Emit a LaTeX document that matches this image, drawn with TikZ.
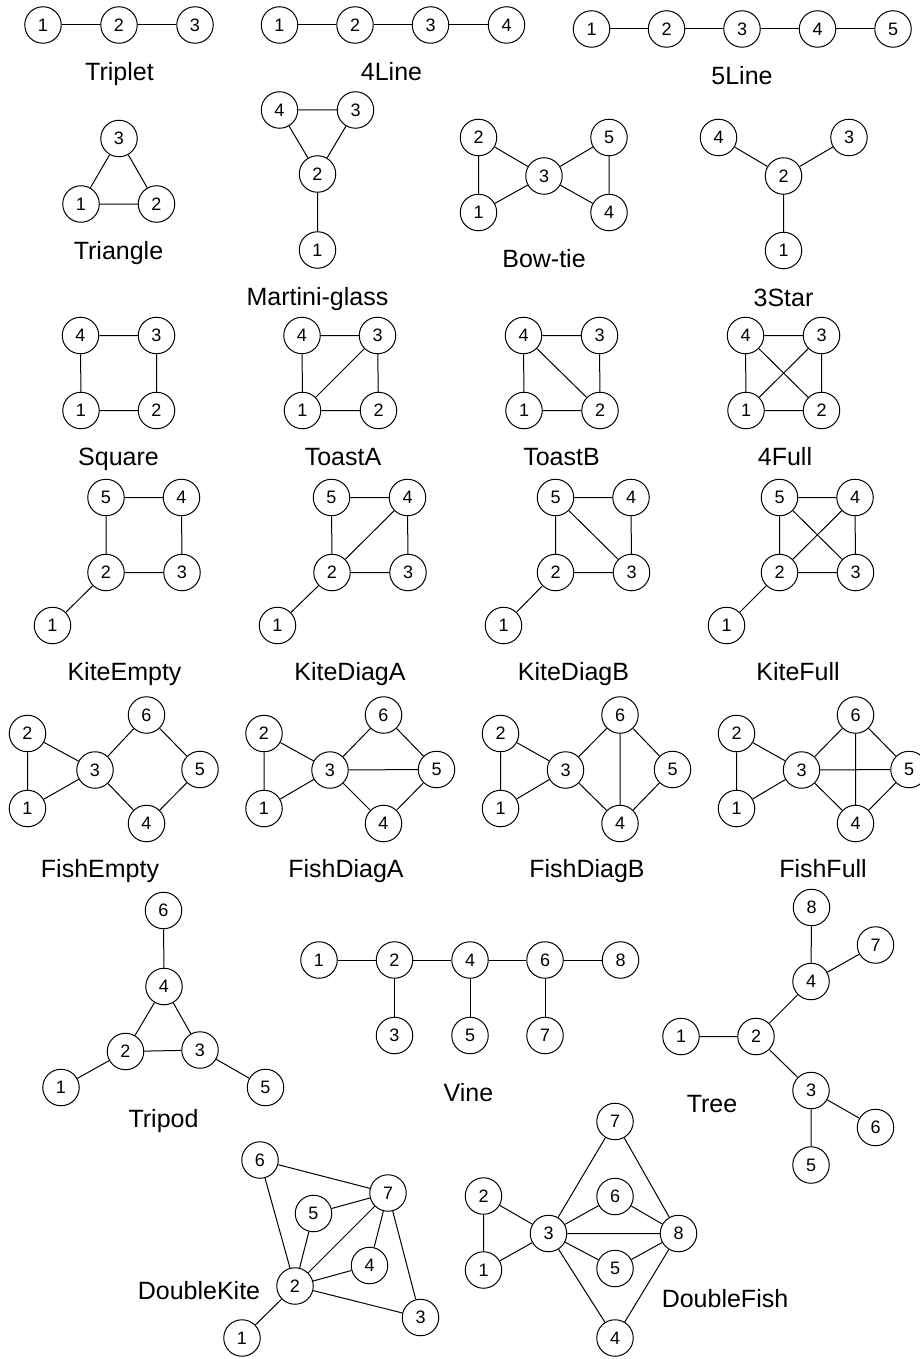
\documentclass[tikz,border=0pt]{standalone}
\usepackage{fontspec}
\setmainfont{Liberation Sans}
\begin{document}
\begin{tikzpicture}[x=1pt,y=-1pt,
  v/.style={circle,draw,line width=1pt,minimum size=36.5pt,inner sep=0pt,fill=white,
            font=\fontsize{18}{18}\selectfont},
  lbl/.style={anchor=base,inner sep=0pt,font=\fontsize{25}{30}\selectfont},
  e/.style={line width=1pt}]
\useasboundingbox (0,0) rectangle (920,1359);

% ---------- Triplet ----------
\node[v] (tp1) at (43,25) {1};
\node[v] (tp2) at (119,25) {2};
\node[v] (tp3) at (195,25) {3};
\draw[e] (tp1)--(tp2) (tp2)--(tp3);
\node[lbl] (tpL) at (119.5,81) {Triplet};

% ---------- 4Line ----------
\node[v] (fl1) at (279.5,25) {1};
\node[v] (fl2) at (355,25) {2};
\node[v] (fl3) at (430.5,25) {3};
\node[v] (fl4) at (506.5,25) {4};
\draw[e] (fl1)--(fl2) (fl2)--(fl3) (fl3)--(fl4);
\node[lbl] (flL) at (391.5,81) {4Line};

% ---------- 5Line ----------
\node[v] (fv1) at (591.5,29) {1};
\node[v] (fv2) at (666.5,29) {2};
\node[v] (fv3) at (742,29) {3};
\node[v] (fv4) at (817.5,29) {4};
\node[v] (fv5) at (893,29) {5};
\draw[e] (fv1)--(fv2) (fv2)--(fv3) (fv3)--(fv4) (fv4)--(fv5);
\node[lbl] (fvL) at (742,85) {5Line};

% ---------- Triangle ----------
\node[v] (tr3) at (119,138.5) {3};
\node[v] (tr1) at (81,204) {1};
\node[v] (tr2) at (156.5,204) {2};
\draw[e] (tr1)--(tr2) (tr1)--(tr3) (tr2)--(tr3);
\node[lbl] (trL) at (118.5,259.3) {Triangle};

% ---------- Martini-glass ----------
\node[v] (mg4) at (279.5,110) {4};
\node[v] (mg3) at (355.5,110) {3};
\node[v] (mg2) at (317.5,174) {2};
\node[v] (mg1) at (317.5,250) {1};
\draw[e] (mg4)--(mg3) (mg4)--(mg2) (mg3)--(mg2) (mg2)--(mg1);
\node[lbl] (mgL) at (317.5,305) {Martini-glass};

% ---------- Bow-tie ----------
\node[v] (bt2) at (478.5,137.5) {2};
\node[v] (bt5) at (609,137.5) {5};
\node[v] (bt3) at (544,176) {3};
\node[v] (bt1) at (478.5,212.5) {1};
\node[v] (bt4) at (609,212.5) {4};
\draw[e] (bt2)--(bt1) (bt2)--(bt3) (bt1)--(bt3) (bt3)--(bt5) (bt3)--(bt4) (bt5)--(bt4);
\node[lbl] (btL) at (544,267) {Bow-tie};

% ---------- 3Star ----------
\node[v] (st4) at (718.5,137.5) {4};
\node[v] (st3) at (849,137.5) {3};
\node[v] (st2) at (783.5,176) {2};
\node[v] (st1) at (783.5,250.5) {1};
\draw[e] (st4)--(st2) (st3)--(st2) (st2)--(st1);
\node[lbl] (stL) at (783.5,306) {3Star};

% ---------- Square ----------
\node[v] (sq4) at (80.5,335.5) {4};
\node[v] (sq3) at (156.5,335.5) {3};
\node[v] (sq1) at (81,410.5) {1};
\node[v] (sq2) at (156.5,410.5) {2};
\draw[e] (sq4)--(sq3) (sq4)--(sq1) (sq3)--(sq2) (sq1)--(sq2);
\node[lbl] (sqL) at (118.5,465.3) {Square};

% ---------- ToastA ----------
\node[v] (ta4) at (302,335.5) {4};
\node[v] (ta3) at (377.5,335.5) {3};
\node[v] (ta1) at (302.5,410.5) {1};
\node[v] (ta2) at (378.5,410.5) {2};
\draw[e] (ta4)--(ta3) (ta4)--(ta1) (ta3)--(ta2) (ta1)--(ta2) (ta1)--(ta3);
\node[lbl] (taL) at (343,465.3) {ToastA};

% ---------- ToastB ----------
\node[v] (tb4) at (523.5,335.5) {4};
\node[v] (tb3) at (599.5,335.5) {3};
\node[v] (tb1) at (524,410.5) {1};
\node[v] (tb2) at (600,410.5) {2};
\draw[e] (tb4)--(tb3) (tb4)--(tb1) (tb3)--(tb2) (tb1)--(tb2) (tb4)--(tb2);
\node[lbl] (tbL) at (561.5,465.3) {ToastB};

% ---------- 4Full ----------
\node[v] (ff4) at (745.5,335.5) {4};
\node[v] (ff3) at (821.5,335.5) {3};
\node[v] (ff1) at (746,410.5) {1};
\node[v] (ff2) at (821.5,410.5) {2};
\draw[e] (ff4)--(ff3) (ff4)--(ff1) (ff3)--(ff2) (ff1)--(ff2) (ff4)--(ff2) (ff1)--(ff3);
\node[lbl] (ffL) at (785,465.3) {4Full};

% ---------- KiteEmpty ----------
\node[v] (ke5) at (106,497.5) {5};
\node[v] (ke4) at (181.5,497.5) {4};
\node[v] (ke2) at (106,572.5) {2};
\node[v] (ke3) at (182,572.5) {3};
\node[v] (ke1) at (52.5,625.5) {1};
\draw[e] (ke5)--(ke4) (ke5)--(ke2) (ke4)--(ke3) (ke2)--(ke3) (ke2)--(ke1);
\node[lbl] (keL) at (124.5,680.3) {KiteEmpty};

% ---------- KiteDiagA ----------
\node[v] (ka5) at (331.5,497.5) {5};
\node[v] (ka4) at (407.5,497.5) {4};
\node[v] (ka2) at (332,572.5) {2};
\node[v] (ka3) at (408,572.5) {3};
\node[v] (ka1) at (277.5,625.5) {1};
\draw[e] (ka5)--(ka4) (ka5)--(ka2) (ka4)--(ka3) (ka2)--(ka3) (ka2)--(ka1) (ka2)--(ka4);
\node[lbl] (kaL) at (350,680.3) {KiteDiagA};

% ---------- KiteDiagB ----------
\node[v] (kb5) at (555.5,497.5) {5};
\node[v] (kb4) at (631,497.5) {4};
\node[v] (kb2) at (555.5,572.5) {2};
\node[v] (kb3) at (631.5,572.5) {3};
\node[v] (kb1) at (503.5,625.5) {1};
\draw[e] (kb5)--(kb4) (kb5)--(kb2) (kb4)--(kb3) (kb2)--(kb3) (kb2)--(kb1) (kb5)--(kb3);
\node[lbl] (kbL) at (573.5,680.3) {KiteDiagB};

% ---------- KiteFull ----------
\node[v] (kf5) at (779.5,497.5) {5};
\node[v] (kf4) at (855,497.5) {4};
\node[v] (kf2) at (779.5,572.5) {2};
\node[v] (kf3) at (855.5,572.5) {3};
\node[v] (kf1) at (726.5,625.5) {1};
\draw[e] (kf5)--(kf4) (kf5)--(kf2) (kf4)--(kf3) (kf2)--(kf3) (kf2)--(kf1) (kf5)--(kf3) (kf2)--(kf4);
\node[lbl] (kfL) at (798,680.3) {KiteFull};

% ---------- FishEmpty ----------
\node[v] (fe6) at (146.5,715) {6};
\node[v] (fe2) at (27.5,733.5) {2};
\node[v] (fe3) at (95,770) {3};
\node[v] (fe5) at (200,769.5) {5};
\node[v] (fe1) at (27.5,808.5) {1};
\node[v] (fe4) at (146.5,823.5) {4};
\draw[e] (fe2)--(fe1) (fe2)--(fe3) (fe1)--(fe3) (fe3)--(fe6) (fe3)--(fe4) (fe6)--(fe5) (fe4)--(fe5);
\node[lbl] (feL) at (100,877.7) {FishEmpty};

% ---------- FishDiagA ----------
\node[v] (fa6) at (383.5,715) {6};
\node[v] (fa2) at (264,733.5) {2};
\node[v] (fa3) at (330,770) {3};
\node[v] (fa5) at (436.5,769.5) {5};
\node[v] (fa1) at (264,808.5) {1};
\node[v] (fa4) at (383.5,823.5) {4};
\draw[e] (fa2)--(fa1) (fa2)--(fa3) (fa1)--(fa3) (fa3)--(fa6) (fa3)--(fa4) (fa6)--(fa5) (fa4)--(fa5) (fa3)--(fa5);
\node[lbl] (faL) at (346,877.7) {FishDiagA};

% ---------- FishDiagB ----------
\node[v] (fb6) at (620,715) {6};
\node[v] (fb2) at (500.5,733.5) {2};
\node[v] (fb3) at (565.5,770) {3};
\node[v] (fb5) at (672.5,769.5) {5};
\node[v] (fb1) at (500.5,808.5) {1};
\node[v] (fb4) at (620,823.5) {4};
\draw[e] (fb2)--(fb1) (fb2)--(fb3) (fb1)--(fb3) (fb3)--(fb6) (fb3)--(fb4) (fb6)--(fb5) (fb4)--(fb5) (fb6)--(fb4);
\node[lbl] (fbL) at (587,877.7) {FishDiagB};

% ---------- FishFull ----------
\node[v] (fu6) at (855.5,715) {6};
\node[v] (fu2) at (736.5,733.5) {2};
\node[v] (fu3) at (801.5,770) {3};
\node[v] (fu5) at (909,769.5) {5};
\node[v] (fu1) at (736.5,808.5) {1};
\node[v] (fu4) at (855.5,823.5) {4};
\draw[e] (fu2)--(fu1) (fu2)--(fu3) (fu1)--(fu3) (fu3)--(fu6) (fu3)--(fu4) (fu6)--(fu5) (fu4)--(fu5) (fu6)--(fu4) (fu3)--(fu5);
\node[lbl] (fuL) at (823,877.7) {FishFull};

% ---------- Tripod ----------
\node[v] (td6) at (163.5,910.5) {6};
\node[v] (td4) at (164,986.5) {4};
\node[v] (td2) at (125.5,1051.5) {2};
\node[v] (td3) at (200,1050) {3};
\node[v] (td1) at (61,1087.5) {1};
\node[v] (td5) at (265.5,1087.5) {5};
\draw[e] (td6)--(td4) (td4)--(td2) (td4)--(td3) (td2)--(td3) (td2)--(td1) (td3)--(td5);
\node[lbl] (tdL) at (163.5,1127) {Tripod};

% ---------- Vine ----------
\node[v] (vn1) at (319,960) {1};
\node[v] (vn2) at (394.5,960) {2};
\node[v] (vn4) at (470,960) {4};
\node[v] (vn6) at (545,960) {6};
\node[v] (vn8) at (620.5,960) {8};
\node[v] (vn3) at (394.5,1035.5) {3};
\node[v] (vn5) at (470,1035.5) {5};
\node[v] (vn7) at (545,1035.5) {7};
\draw[e] (vn1)--(vn2) (vn2)--(vn4) (vn4)--(vn6) (vn6)--(vn8) (vn2)--(vn3) (vn4)--(vn5) (vn6)--(vn7);
\node[lbl] (vnL) at (468.5,1101) {Vine};

% ---------- Tree ----------
\node[v] (tt8) at (811.5,907.5) {8};
\node[v] (tt7) at (875.5,945) {7};
\node[v] (tt4) at (811,981.5) {4};
\node[v] (tt1) at (681,1036.5) {1};
\node[v] (tt2) at (756,1036.5) {2};
\node[v] (tt3) at (811,1090.5) {3};
\node[v] (tt6) at (875.5,1127.5) {6};
\node[v] (tt5) at (811,1165) {5};
\draw[e] (tt1)--(tt2) (tt2)--(tt4) (tt4)--(tt8) (tt4)--(tt7) (tt2)--(tt3) (tt3)--(tt6) (tt3)--(tt5);
\node[lbl] (ttL) at (712,1112.7) {Tree};

% ---------- DoubleKite ----------
\node[v] (dk6) at (260,1160) {6};
\node[v] (dk7) at (388,1193) {7};
\node[v] (dk5) at (313.5,1213.5) {5};
\node[v] (dk4) at (369.5,1265.5) {4};
\node[v] (dk2) at (295,1286) {2};
\node[v] (dk3) at (420.5,1317.5) {3};
\node[v] (dk1) at (242,1338) {1};
\draw[e] (dk6)--(dk7) (dk6)--(dk2) (dk5)--(dk7) (dk5)--(dk2) (dk7)--(dk2) (dk7)--(dk4) (dk7)--(dk3)
         (dk4)--(dk2) (dk2)--(dk3) (dk2)--(dk1);
\node[lbl] (dkL) at (199,1299.3) {DoubleKite};

% ---------- DoubleFish ----------
\node[v] (df7) at (615,1121.5) {7};
\node[v] (df2) at (483.5,1196) {2};
\node[v] (df6) at (615,1196.5) {6};
\node[v] (df3) at (548.5,1233.5) {3};
\node[v] (df8) at (678.5,1233.5) {8};
\node[v] (df1) at (483.5,1270) {1};
\node[v] (df5) at (615,1268.5) {5};
\node[v] (df4) at (615,1338) {4};
\draw[e] (df2)--(df1) (df2)--(df3) (df1)--(df3) (df3)--(df7) (df7)--(df8) (df3)--(df6) (df6)--(df8)
         (df3)--(df8) (df3)--(df5) (df5)--(df8) (df3)--(df4) (df4)--(df8);
\node[lbl] (dfL) at (725,1307.7) {DoubleFish};
\end{tikzpicture}
\end{document}
